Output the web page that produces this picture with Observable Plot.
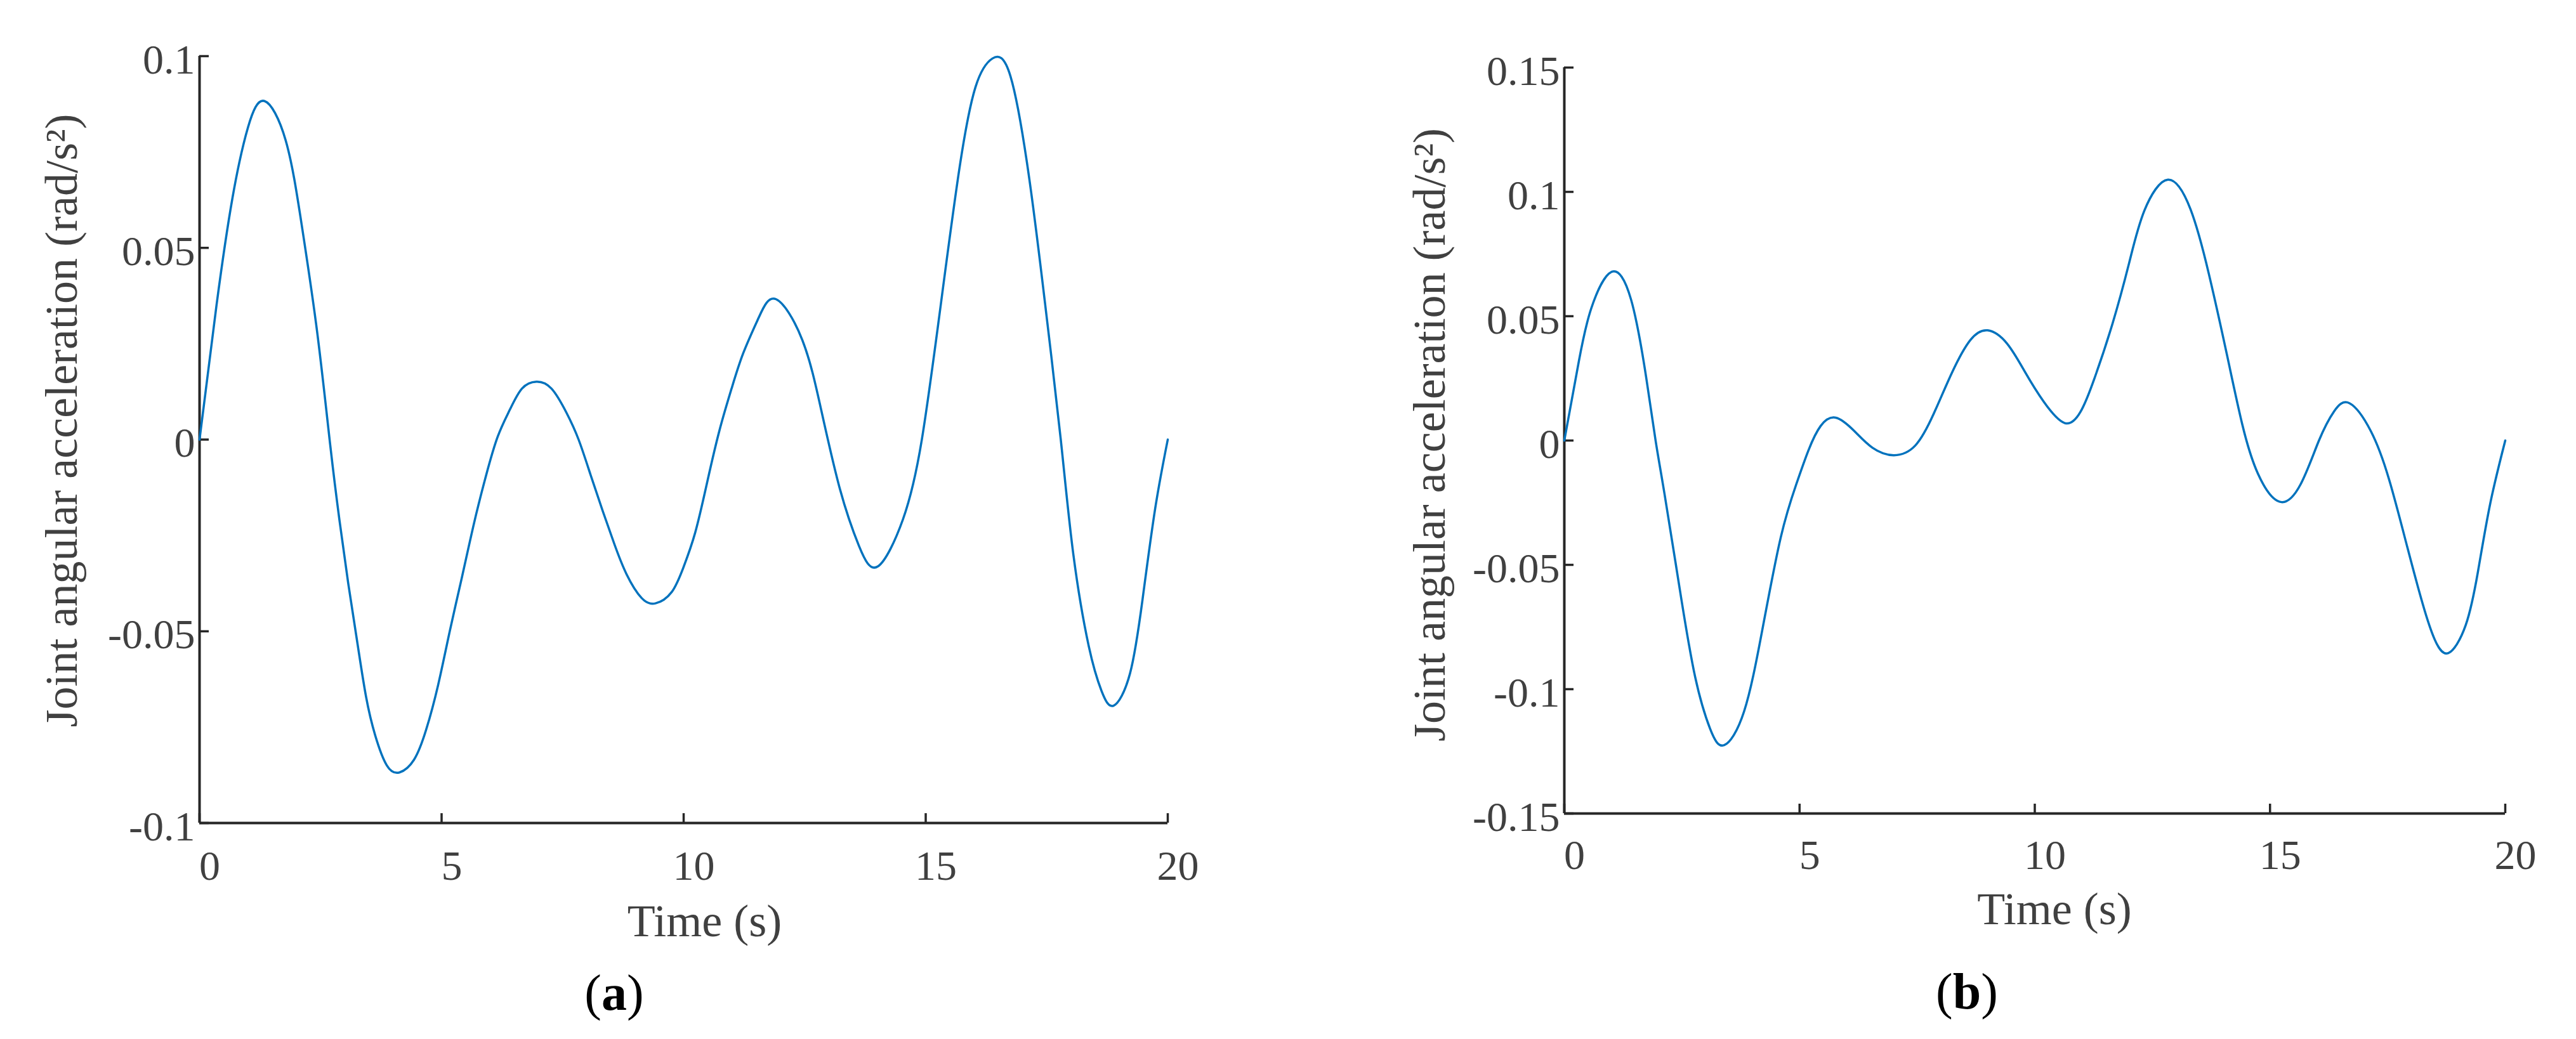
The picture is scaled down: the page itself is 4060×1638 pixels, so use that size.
<!DOCTYPE html>
<html>
<head>
<meta charset="utf-8">
<script src="https://cdn.jsdelivr.net/npm/d3@7"></script>
<script src="https://cdn.jsdelivr.net/npm/@observablehq/plot@0.6"></script>
<style>
  html, body { margin: 0; padding: 0; background: #ffffff; }
  #page { position: relative; width: 4060px; height: 1638px; overflow: hidden; background: #ffffff; }
  .panel { position: absolute; top: 0; }
  .cap { position: absolute; width: 400px; text-align: center; font-family: "Liberation Serif", "Times New Roman", serif; font-size: 80px; line-height: 1; color: #000; }
</style>
</head>
<body>
<div id="page"></div>
<script>
// ---- data ----
const timeA = [0, 0.35, 0.68, 1.0, 1.34, 1.78, 2.11, 2.43, 2.70, 2.89, 3.07, 3.26, 3.44, 3.63, 3.87, 4.13, 4.43, 4.68, 4.93, 5.17, 5.42, 5.67, 5.92, 6.16, 6.41, 6.66, 6.96, 7.27, 7.58, 7.83, 8.08, 8.33, 8.57, 8.82, 9.13, 9.42, 9.75, 9.99, 10.24, 10.49, 10.74, 10.99, 11.23, 11.55, 11.91, 12.45, 12.84, 13.23, 13.62, 14.01, 14.53, 14.92, 15.32, 15.7, 16.03, 16.38, 16.75, 17.14, 17.47, 17.79, 18.05, 18.37, 18.63, 18.88, 19.22, 19.48, 19.74, 20];
const accelA = [0, 0.035, 0.063, 0.0814, 0.0883, 0.078, 0.056, 0.028, -0.0015, -0.021, -0.0374, -0.053, -0.0671, -0.0772, -0.085, -0.0868, -0.0835, -0.0757, -0.0639, -0.0499, -0.0359, -0.0218, -0.0093, 0.0008, 0.0078, 0.0133, 0.0151, 0.0133, 0.007, 0, -0.0093, -0.0187, -0.0273, -0.0351, -0.0413, -0.0427, -0.0398, -0.0335, -0.0242, -0.0109, 0.0024, 0.0133, 0.0225, 0.0318, 0.0366, 0.026, 0.0078, -0.013, -0.0277, -0.0331, -0.0208, 0, 0.036, 0.071, 0.092, 0.0994, 0.0948, 0.068, 0.035, 0, -0.030, -0.054, -0.0655, -0.0694, -0.061, -0.0416, -0.018, 0];

const timeB = [0, 0.31, 0.57, 1.0, 1.42, 1.74, 1.94, 2.13, 2.46, 2.78, 3.1, 3.4, 3.82, 4.21, 4.6, 4.93, 5.19, 5.45, 5.77, 6.16, 6.55, 7.0, 7.46, 7.85, 8.24, 8.63, 9.0, 9.41, 9.8, 10.19, 10.64, 10.97, 11.23, 11.62, 12.0, 12.33, 12.83, 13.31, 13.7, 14.09, 14.41, 14.74, 15.2, 15.65, 16.04, 16.36, 16.69, 17.14, 17.53, 17.92, 18.25, 18.5, 18.79, 19.16, 19.42, 19.68, 20];
const accelB = [0, 0.032, 0.053, 0.0678, 0.0566, 0.0254, 0, -0.0215, -0.0605, -0.0950, -0.116, -0.1225, -0.109, -0.076, -0.039, -0.0176, -0.0039, 0.0059, 0.0092, 0.0039, -0.0029, -0.0059, -0.002, 0.0107, 0.0273, 0.0404, 0.0443, 0.039, 0.0273, 0.0156, 0.007, 0.0115, 0.0230, 0.045, 0.071, 0.0925, 0.1049, 0.0930, 0.067, 0.034, 0.0065, -0.0132, -0.0246, -0.0176, 0, 0.0117, 0.015, 0.0039, -0.0156, -0.043, -0.066, -0.080, -0.0855, -0.0742, -0.0527, -0.0254, 0];

const xDomain = [0, 20];
const xTicks = [0, 5, 10, 15, 20];
const xTickLabels = ["0", "5", "10", "15", "20"];

const yDomainA = [-0.1, 0.1];
const yTicksA = [-0.1, -0.05, 0, 0.05, 0.1];
const yTickLabelsA = ["-0.1", "-0.05", "0", "0.05", "0.1"];

const yDomainB = [-0.15, 0.15];
const yTicksB = [-0.15, -0.1, -0.05, 0, 0.05, 0.1, 0.15];
const yTickLabelsB = ["-0.15", "-0.1", "-0.05", "0", "0.05", "0.1", "0.15"];

const xTitle = "Time (s)";
const yTitle = "Joint angular acceleration (rad/s\u00B2)";
const captions = ["a", "b"];

// ---- styles ----
const FONT = "Liberation Serif, Times New Roman, serif";
const AXIS = "#262626";
const TEXT = "#404040";
const LINE = "#0072BD";

function panel(cfg) {
  const data = cfg.time.map((t, i) => ({t, v: cfg.accel[i]}));
  const frameW = cfg.width - cfg.ml - cfg.mr;
  const frameH = cfg.height - cfg.mt - cfg.mb;
  const xFmt = new Map(xTicks.map((d, i) => [d, xTickLabels[i]]));
  const yFmt = new Map(cfg.yTicks.map((d, i) => [d, cfg.yLabels[i]]));
  return Plot.plot({
    width: cfg.width,
    height: cfg.height,
    marginLeft: cfg.ml,
    marginRight: cfg.mr,
    marginTop: cfg.mt,
    marginBottom: cfg.mb,
    style: {fontFamily: FONT, fontSize: "66px", color: TEXT, background: "transparent", overflow: "visible"},
    x: {domain: xDomain},
    y: {domain: cfg.yDomain},
    marks: [
      // tick labels
      Plot.axisX({ticks: xTicks, tickSize: 0, tickPadding: cfg.xPad, tickFormat: d => xFmt.get(d), fontSize: 66, fill: TEXT, dx: 16, label: null}),
      Plot.axisY({ticks: cfg.yTicks, tickSize: 0, tickPadding: 7, tickFormat: d => yFmt.get(d), fontSize: 66, fill: TEXT, dy: 6, label: null}),
      // inward tick marks
      Plot.tickX(xTicks, {x: d => d, insetTop: frameH - 15, stroke: AXIS, strokeWidth: 3.5}),
      Plot.tickY(cfg.yTicks, {y: d => d, insetRight: frameW - 15, stroke: AXIS, strokeWidth: 3.5}),
      // axis lines (box off)
      Plot.ruleY([cfg.yDomain[0]], {stroke: AXIS, strokeWidth: 4}),
      Plot.ruleX([xDomain[0]], {stroke: AXIS, strokeWidth: 4}),
      // the curve
      Plot.line(data, {x: "t", y: "v", stroke: LINE, strokeWidth: 3.5, curve: "natural"}),
      // axis titles
      Plot.text([xTitle], {text: d => d, frameAnchor: "bottom", textAnchor: "middle", lineAnchor: "bottom", dy: cfg.xTitleDy, dx: cfg.xTitleDx, fontSize: 72, fill: TEXT}),
      Plot.text([yTitle], {text: d => d, frameAnchor: "left", rotate: -90, textAnchor: "middle", lineAnchor: "bottom", dx: cfg.yTitleDx, dy: cfg.yTitleDy, fontSize: 72, fill: TEXT})
    ]
  });
}

const page = document.getElementById("page");

const left = panel({
  time: timeA, accel: accelA, yDomain: yDomainA, yTicks: yTicksA, yLabels: yTickLabelsA,
  width: 2030, height: 1638, ml: 314, mr: 190, mt: 88, mb: 341,
  xPad: 43, xTitleDy: 178, xTitleDx: 33, yTitleDx: -194, yTitleDy: -30
});
left.classList.add("panel");
left.style.left = "0px";
page.appendChild(left);

const right = panel({
  time: timeB, accel: accelB, yDomain: yDomainB, yTicks: yTicksB, yLabels: yTickLabelsB,
  width: 2030, height: 1638, ml: 435, mr: 112, mt: 106, mb: 356,
  xPad: 41, xTitleDy: 174, xTitleDx: 31, yTitleDx: -189, yTitleDy: -9
});
right.classList.add("panel");
right.style.left = "2030px";
page.appendChild(right);

// captions (a) and (b) below the panels
const capPos = [{cx: 968, top: 1525}, {cx: 3100, top: 1523}];
captions.forEach((c, i) => {
  const div = document.createElement("div");
  div.className = "cap";
  div.style.left = (capPos[i].cx - 200) + "px";
  div.style.top = capPos[i].top + "px";
  div.innerHTML = "(<b>" + c + "</b>)";
  page.appendChild(div);
});
</script>
</body>
</html>
